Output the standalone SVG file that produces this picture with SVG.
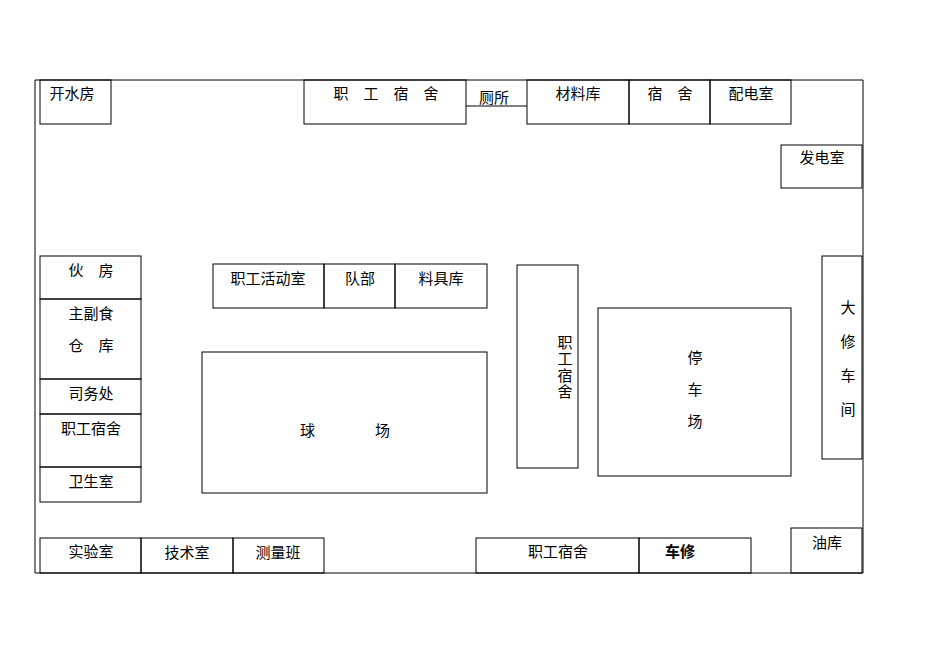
<svg xmlns="http://www.w3.org/2000/svg" width="950" height="672" viewBox="0 0 950 672">
<style>
rect{fill:none;stroke:#000;stroke-width:1}
line{stroke:#000;stroke-width:1}
text{font-family:"Liberation Serif","Noto Sans CJK SC",serif;font-size:15px;fill:#000;text-anchor:middle}
</style>
<rect x="0" y="0" width="950" height="672" style="fill:#fff;stroke:none"/>
<g id="boundary">
<line x1="35" y1="80" x2="863" y2="80"/>
<line x1="35" y1="80" x2="35" y2="573"/>
<line x1="863" y1="80" x2="863" y2="573"/>
<line x1="35" y1="573" x2="863" y2="573"/>
</g>
<g id="kaishuifang"><rect x="40" y="80" width="71" height="44"/><text x="72" y="99">开水房</text></g>
<g id="sushe1"><rect x="304" y="80" width="162" height="44"/><text x="386" y="99">职　工　宿　舍</text></g>
<g id="cesuo"><line x1="466" y1="106" x2="527" y2="106"/><text x="494" y="103">厕所</text></g>
<g id="cailiaoku"><rect x="527" y="80" width="102" height="44"/><text x="578" y="99">材料库</text></g>
<g id="sushe2"><rect x="629" y="80" width="81" height="44"/><text x="670" y="99">宿　舍</text></g>
<g id="peidianshi"><rect x="710" y="80" width="81" height="44"/><text x="751" y="99">配电室</text></g>
<g id="fadianshi"><rect x="781" y="145" width="81" height="43"/><text x="822" y="163">发电室</text></g>
<g id="huofang"><rect x="40" y="256" width="101" height="43"/><text x="91" y="276">伙　房</text></g>
<g id="cangku"><rect x="40" y="299" width="101" height="80"/><text x="91" y="319">主副食</text><text x="91" y="351">仓　库</text></g>
<g id="siwuchu"><rect x="40" y="379" width="101" height="35"/><text x="91" y="399">司务处</text></g>
<g id="sushe3"><rect x="40" y="414" width="101" height="53"/><text x="91" y="434">职工宿舍</text></g>
<g id="weisheng"><rect x="40" y="467" width="101" height="35"/><text x="91" y="487">卫生室</text></g>
<g id="huodong"><rect x="213" y="264" width="111" height="44"/><text x="268" y="284">职工活动室</text></g>
<g id="duibu"><rect x="324" y="264" width="71" height="44"/><text x="360" y="284">队部</text></g>
<g id="liaojuku"><rect x="395" y="264" width="92" height="44"/><text x="441" y="284">料具库</text></g>
<g id="qiuchang"><rect x="202" y="352" width="285" height="141"/><text x="345" y="436">球　　　　场</text></g>
<g id="sushe4"><rect x="517" y="265" width="61" height="203"/><text x="565" y="348">职</text><text x="565" y="364">工</text><text x="565" y="381">宿</text><text x="565" y="397">舍</text></g>
<g id="tingche"><rect x="598" y="308" width="193" height="168"/><text x="695" y="363">停</text><text x="695" y="395">车</text><text x="695" y="427">场</text></g>
<g id="daxiu"><rect x="822" y="256" width="40" height="203"/><text x="848" y="313">大</text><text x="848" y="347">修</text><text x="848" y="381">车</text><text x="848" y="415">间</text></g>
<g id="shiyan"><rect x="40" y="538" width="101" height="35"/><text x="91" y="557">实验室</text></g>
<g id="jishu"><rect x="141" y="538" width="92" height="35"/><text x="187" y="558">技术室</text></g>
<g id="celiang"><rect x="233" y="538" width="91" height="35"/><text x="278" y="558">测量班</text></g>
<g id="sushe5"><rect x="476" y="538" width="163" height="35"/><text x="558" y="557">职工宿舍</text></g>
<g id="chexiu"><rect x="639" y="538" width="112" height="35"/><text x="680" y="557" style="font-weight:bold">车修</text></g>
<g id="youku"><rect x="791" y="528" width="71" height="45"/><text x="827" y="548">油库</text></g>
</svg>
